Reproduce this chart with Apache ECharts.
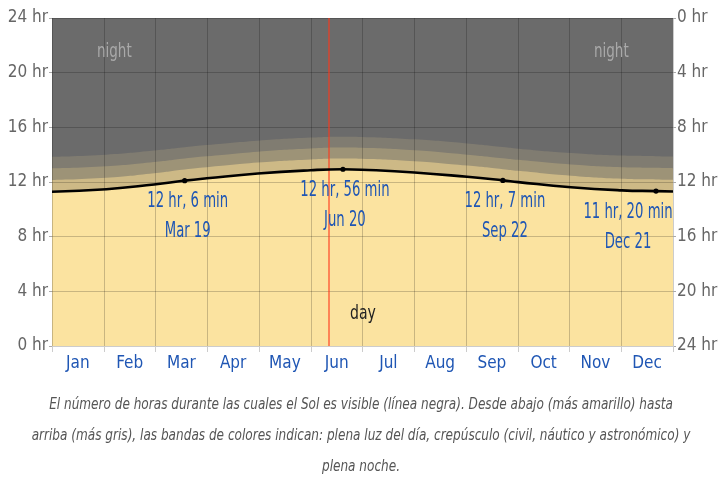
<!DOCTYPE html>
<html>
<head>
<meta charset="utf-8">
<script src="https://cdn.jsdelivr.net/npm/echarts@6/dist/echarts.min.js"></script>
<style>
html, body { margin: 0; padding: 0; background: #fff; }
#main { width: 722px; height: 480px; }
</style>
</head>
<body>
<div id="main"></div>
<script>
var FONT = "'Liberation Sans Narrow', 'DejaVu Sans Condensed', sans-serif";

var months = ['Jan', 'Feb', 'Mar', 'Apr', 'May', 'Jun', 'Jul', 'Aug', 'Sep', 'Oct', 'Nov', 'Dec'];

// day of year for each reading
var days = [0, 32, 60, 78, 91, 121, 152, 171, 182, 213, 244, 265, 274, 305, 335, 355, 365];
// hours of sun (black line) and the upper edge of each twilight band
var daylight = [11.29, 11.47, 11.82, 12.10, 12.27, 12.62, 12.86, 12.93, 12.90, 12.70, 12.38, 12.12, 11.99, 11.62, 11.39, 11.33, 11.30];
var civil    = [12.15, 12.31, 12.64, 12.92, 13.08, 13.42, 13.65, 13.72, 13.70, 13.52, 13.20, 12.94, 12.82, 12.46, 12.24, 12.19, 12.16];
var nautical = [13.00, 13.15, 13.46, 13.72, 13.88, 14.22, 14.45, 14.52, 14.50, 14.32, 14.00, 13.74, 13.62, 13.28, 13.08, 13.04, 13.01];
var astro    = [13.85, 14.00, 14.30, 14.54, 14.70, 15.02, 15.25, 15.32, 15.30, 15.12, 14.82, 14.56, 14.44, 14.12, 13.93, 13.89, 13.86];

// solstices / equinoxes
var keyDays = [78, 171, 265, 355];
var keyHours = [12.1, 12.933, 12.117, 11.333];
var keyText = ['12 hr, 6 min\nMar 19', '12 hr, 56 min\nJun 20', '12 hr, 7 min\nSep 22', '11 hr, 20 min\nDec 21'];
var keyShift = [3, 2, 2, -28];

var today = 163;

function pairs(ys) {
    return days.map(function (d, i) { return [d, ys[i]]; });
}

function band(name, ys, color, z) {
    return {
        name: name,
        type: 'line',
        xAxisIndex: 1,
        smooth: true,
        showSymbol: false,
        silent: true,
        z: z,
        lineStyle: { width: 0 },
        areaStyle: { color: color, opacity: 1 },
        data: pairs(ys)
    };
}

var gridLine = { show: true, lineStyle: { color: 'rgba(0,0,0,0.2)', width: 1 } };
var hrLabel = { color: '#666', fontSize: 17, fontFamily: FONT, margin: 4, formatter: '{value} hr' };

var option = {
    animation: false,
    backgroundColor: '#fff',
    grid: {
        left: 52, right: 49, top: 18, bottom: 134,
        show: true, backgroundColor: '#6b6b6b', borderWidth: 0
    },
    xAxis: [{
        type: 'category',
        data: months,
        boundaryGap: true,
        z: 10,
        axisLine: { show: false },
        axisTick: { show: true, length: 6, lineStyle: { color: '#ccc' } },
        axisLabel: { color: '#1f56b4', fontSize: 17, fontFamily: FONT, margin: 9 },
        splitLine: gridLine
    }, {
        type: 'value',
        min: 0, max: 365,
        show: false
    }],
    yAxis: [{
        type: 'value',
        min: 0, max: 24, interval: 4,
        z: 10,
        axisLine: { show: false },
        axisTick: { show: true, length: 3, lineStyle: { color: '#aaa' } },
        axisLabel: hrLabel,
        splitLine: gridLine
    }, {
        type: 'value',
        min: 0, max: 24, interval: 4,
        inverse: true,
        position: 'right',
        z: 10,
        axisLine: { show: false },
        axisTick: { show: true, length: 3, lineStyle: { color: '#aaa' } },
        axisLabel: hrLabel,
        splitLine: { show: false }
    }],
    series: [
        band('astronomical', astro, '#807c71', 2),
        band('nautical', nautical, '#9d9377', 3),
        band('civil', civil, '#cdb986', 4),
        band('day', daylight, '#fbe3a0', 5),
        {
            // red marker for the current date
            name: 'today',
            type: 'custom',
            xAxisIndex: 1,
            z: 15,
            silent: true,
            data: [[today]],
            renderItem: function (params, api) {
                var top = api.coord([api.value(0), 24]);
                var bottom = api.coord([api.value(0), 0]);
                var x = Math.round(top[0]);
                return {
                    type: 'line',
                    z2: 100,
                    shape: { x1: x, y1: top[1], x2: x, y2: bottom[1] },
                    style: { stroke: 'rgba(255,55,25,0.55)', lineWidth: 2, fill: null }
                };
            }
        },
        {
            name: 'sun',
            type: 'line',
            xAxisIndex: 1,
            smooth: true,
            showSymbol: false,
            z: 20,
            lineStyle: { color: '#000', width: 2.6 },
            data: pairs(daylight)
        },
        {
            name: 'key',
            type: 'custom',
            xAxisIndex: 1,
            z: 21,
            silent: true,
            data: keyDays.map(function (d, i) { return [d, keyHours[i]]; }),
            renderItem: function (params, api) {
                var pt = api.coord([api.value(0), api.value(1)]);
                var i = params.dataIndex;
                return {
                    type: 'group',
                    children: [{
                        type: 'circle',
                        shape: { cx: pt[0], cy: pt[1], r: 2.6 },
                        style: { fill: '#000' }
                    }, {
                        type: 'text',
                        x: pt[0] + keyShift[i],
                        y: pt[1] + 6,
                        scaleX: 0.7,
                        style: {
                            text: keyText[i],
                            fill: '#1f56b4',
                            font: '21px ' + FONT,
                            lineHeight: 30,
                            align: 'center',
                            verticalAlign: 'top'
                        }
                    }]
                };
            }
        }
    ],
    graphic: [{
        type: 'text', x: 97, y: 42, z: 30, scaleX: 0.75,
        style: { text: 'night', fill: '#a9a9a9', font: '20px ' + FONT }
    }, {
        type: 'text', x: 594, y: 42, z: 30, scaleX: 0.75,
        style: { text: 'night', fill: '#a9a9a9', font: '20px ' + FONT }
    }, {
        type: 'text', x: 350, y: 304, z: 30, scaleX: 0.78,
        style: { text: 'day', fill: '#222', font: '20px ' + FONT }
    }, {
        type: 'text', x: 361, y: 389, scaleX: 0.84,
        style: {
            text: 'El número de horas durante las cuales el Sol es visible (línea negra). Desde abajo (más amarillo) hasta\n' +
                  'arriba (más gris), las bandas de colores indican: plena luz del día, crepúsculo (civil, náutico y astronómico) y\n' +
                  'plena noche.',
            fill: '#555',
            font: 'italic 16px ' + FONT,
            align: 'center',
            verticalAlign: 'top',
            lineHeight: 31
        }
    }]
};

var myChart = echarts.init(document.getElementById('main'));
myChart.setOption(option);
</script>
</body>
</html>
